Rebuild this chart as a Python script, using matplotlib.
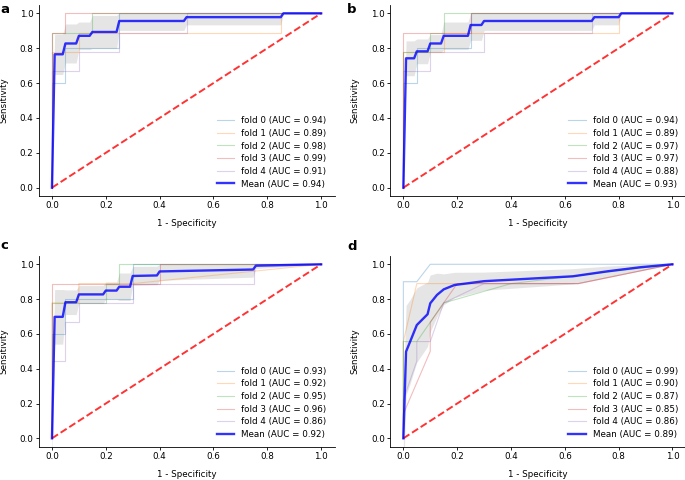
import matplotlib
matplotlib.use("Agg")
import matplotlib.pyplot as plt

plt.rcParams['font.family'] = ['DejaVu Sans']
FS = 6.3

# ---------------- Panel a ----------------
a_fold_fpr = [
    [0, 0, 0.05, 0.05, 0.25, 0.25, 1],
    [0, 0, 0.10, 0.10, 0.85, 0.85, 1],
    [0, 0, 0.15, 0.15, 1],
    [0, 0, 0.05, 0.05, 1],
    [0, 0, 0.10, 0.10, 0.25, 0.25, 0.50, 0.50, 1],
]
a_fold_tpr = [
    [0, 0.6, 0.6, 0.8, 0.8, 1, 1],
    [0, 0.778, 0.778, 0.889, 0.889, 1, 1],
    [0, 0.889, 0.889, 1, 1],
    [0, 0.889, 0.889, 1, 1],
    [0, 0.667, 0.667, 0.778, 0.778, 0.889, 0.889, 1, 1],
]
a_auc = [0.94, 0.89, 0.98, 0.99, 0.91]
a_mean_auc = 0.94
a_mean_fpr = [0, 0.01, 0.04, 0.05, 0.09, 0.10, 0.14, 0.15, 0.24, 0.25, 0.49, 0.50, 0.85, 0.86, 1.0]
a_mean_tpr = [0, 0.765, 0.765, 0.827, 0.827, 0.871, 0.871, 0.893, 0.893, 0.956, 0.956, 0.978, 0.978, 1.0, 1.0]
a_band_lo = [-0.116, 0.649, 0.649, 0.715, 0.715, 0.792, 0.792, 0.798, 0.798, 0.902, 0.902, 0.934, 0.934, 1.0, 1.0]
a_band_hi = [0.116, 0.881, 0.881, 0.939, 0.939, 0.950, 0.950, 0.988, 0.988, 1.0, 1.0, 1.0, 1.0, 1.0, 1.0]

# ---------------- Panel b ----------------
b_fold_fpr = [
    [0, 0, 0.05, 0.05, 0.25, 0.25, 1],
    [0, 0, 0.15, 0.15, 0.80, 0.80, 1],
    [0, 0, 0.10, 0.10, 0.15, 0.15, 1],
    [0, 0, 0.25, 0.25, 1],
    [0, 0, 0.10, 0.10, 0.30, 0.30, 0.70, 0.70, 1],
]
b_fold_tpr = [
    [0, 0.6, 0.6, 0.8, 0.8, 1, 1],
    [0, 0.778, 0.778, 0.889, 0.889, 1, 1],
    [0, 0.778, 0.778, 0.889, 0.889, 1, 1],
    [0, 0.889, 0.889, 1, 1],
    [0, 0.667, 0.667, 0.778, 0.778, 0.889, 0.889, 1, 1],
]
b_auc = [0.94, 0.89, 0.97, 0.97, 0.88]
b_mean_auc = 0.93
b_mean_fpr = [0, 0.01, 0.04, 0.05, 0.09, 0.10, 0.14, 0.15, 0.24, 0.25, 0.29, 0.30, 0.70, 0.71, 0.80, 0.81, 1.0]
b_mean_tpr = [0, 0.742, 0.742, 0.782, 0.782, 0.827, 0.827, 0.871, 0.871, 0.933, 0.933, 0.956, 0.956, 0.978, 0.978, 1.0, 1.0]
b_band_lo = [-0.100, 0.642, 0.642, 0.711, 0.711, 0.775, 0.775, 0.792, 0.792, 0.845, 0.845, 0.902, 0.902, 0.934, 0.934, 1.0, 1.0]
b_band_hi = [0.100, 0.842, 0.842, 0.853, 0.853, 0.878, 0.878, 0.950, 0.950, 1.0, 1.0, 1.0, 1.0, 1.0, 1.0, 1.0, 1.0]

# ---------------- Panel c ----------------
c_fold_fpr = [
    [0, 0, 0.05, 0.05, 0.30, 0.30, 1],
    [0, 0, 0.10, 0.10, 0.30, 1],
    [0, 0, 0.20, 0.20, 0.25, 0.25, 1],
    [0, 0, 0.40, 0.40, 1],
    [0, 0, 0.05, 0.05, 0.10, 0.10, 0.30, 0.30, 0.75, 0.75, 1],
]
c_fold_tpr = [
    [0, 0.6, 0.6, 0.8, 0.8, 1, 1],
    [0, 0.778, 0.778, 0.889, 0.889, 1],
    [0, 0.778, 0.778, 0.889, 0.889, 1, 1],
    [0, 0.889, 0.889, 1, 1],
    [0, 0.444, 0.444, 0.667, 0.667, 0.778, 0.778, 0.889, 0.889, 1, 1],
]
c_auc = [0.93, 0.92, 0.95, 0.96, 0.86]
c_mean_auc = 0.92
c_mean_fpr = [0, 0.01, 0.04, 0.05, 0.09, 0.10, 0.19, 0.20, 0.24, 0.25, 0.29, 0.30, 0.39, 0.40, 0.747, 0.758, 1.0]
c_mean_tpr = [0, 0.698, 0.698, 0.782, 0.782, 0.827, 0.827, 0.849, 0.849, 0.871, 0.871, 0.933, 0.936, 0.959, 0.970, 0.992, 1.0]
c_band_lo = [-0.157, 0.541, 0.541, 0.711, 0.711, 0.775, 0.775, 0.799, 0.799, 0.792, 0.792, 0.879, 0.883, 0.908, 0.926, 0.976, 1.0]
c_band_hi = [0.157, 0.855, 0.855, 0.853, 0.853, 0.878, 0.878, 0.899, 0.899, 0.950, 0.950, 0.988, 0.989, 1.0, 1.0, 1.0, 1.0]

# ---------------- Panel d ----------------
d_fold_fpr = [
    [0, 0, 0.05, 0.10, 1.0],
    [0, 0, 0.05, 0.65, 1.0],
    [0, 0, 0.05, 0.15, 0.40, 1.0],
    [0, 0, 0.10, 0.10, 0.15, 0.20, 0.65, 1.0],
    [0, 0, 0.05, 0.05, 0.10, 0.15, 0.30, 0.65, 1.0],
]
d_fold_tpr = [
    [0, 0.9, 0.9, 1.0, 1.0],
    [0, 0.556, 0.889, 0.889, 1.0],
    [0, 0.556, 0.556, 0.778, 0.889, 1.0],
    [0, 0.14, 0.50, 0.667, 0.778, 0.889, 0.889, 1.0],
    [0, 0.222, 0.444, 0.556, 0.556, 0.778, 0.889, 0.889, 1.0],
]
d_auc = [0.99, 0.90, 0.87, 0.85, 0.86]
d_mean_auc = 0.89
d_mean_fpr = [0, 0.01, 0.025, 0.05, 0.09, 0.10, 0.125, 0.15, 0.19, 0.30, 0.63, 0.76, 0.88, 1.0]
d_mean_tpr = [0, 0.498, 0.555, 0.651, 0.713, 0.776, 0.824, 0.856, 0.881, 0.903, 0.931, 0.960, 0.983, 1.0]
d_band_lo = [-0.272, 0.247, 0.313, 0.437, 0.528, 0.613, 0.699, 0.767, 0.808, 0.851, 0.887, 0.930, 0.968, 1.0]
d_band_hi = [0.272, 0.763, 0.797, 0.865, 0.898, 0.939, 0.949, 0.945, 0.954, 0.955, 0.975, 0.990, 0.998, 1.0]

panel_letters = ['a', 'b', 'c', 'd']
x_label = '1 - Specificity'
y_label = 'Sensitivity'
ticks = [0.0, 0.2, 0.4, 0.6, 0.8, 1.0]

panels = [
    (a_fold_fpr, a_fold_tpr, a_auc, a_mean_auc, a_mean_fpr, a_mean_tpr, a_band_lo, a_band_hi),
    (b_fold_fpr, b_fold_tpr, b_auc, b_mean_auc, b_mean_fpr, b_mean_tpr, b_band_lo, b_band_hi),
    (c_fold_fpr, c_fold_tpr, c_auc, c_mean_auc, c_mean_fpr, c_mean_tpr, c_band_lo, c_band_hi),
    (d_fold_fpr, d_fold_tpr, d_auc, d_mean_auc, d_mean_fpr, d_mean_tpr, d_band_lo, d_band_hi),
]

fig = plt.figure(figsize=(6.85, 4.8), dpi=100)
W, H = 685.0, 480.0
# axes rectangles in pixels: left, top, right, bottom
rects = [(38.5, 4.6, 334.6, 196.4), (389.9, 4.6, 685.9, 196.4),
         (38.5, 255.6, 334.6, 447.0), (389.9, 255.6, 685.9, 447.0)]
letter_pos = [(0.5, 12.7), (347.0, 13.3), (0.5, 249.3), (347.0, 250.0)]
fold_colors = ['C0', 'C1', 'C2', 'C3', 'C4']

for i, (ffpr, ftpr, aucs, mauc, mfpr, mtpr, blo, bhi) in enumerate(panels):
    l, t, r, b = rects[i]
    ax = fig.add_axes([l / W, 1 - b / H, (r - l) / W, (b - t) / H])
    for k in range(len(ffpr)):
        ax.plot(ffpr[k], ftpr[k], color=fold_colors[k], lw=0.8, alpha=0.3,
                label='fold %d (AUC = %.2f)' % (k, aucs[k]))
    ax.plot([0, 1], [0, 1], linestyle='--', lw=1.4, color='r', alpha=0.8)
    ax.plot(mfpr, mtpr, color='b', lw=1.7, alpha=0.8,
            label='Mean (AUC = %.2f)' % mauc)
    ax.fill_between(mfpr, blo, bhi, color='grey', alpha=0.2, lw=0)
    ax.set_xlim(-0.05, 1.05)
    ax.set_ylim(-0.05, 1.05)
    ax.set_xticks(ticks)
    ax.set_yticks(ticks)
    ax.tick_params(labelsize=FS, length=2.2, width=0.6, pad=1.4)
    for s in ['top', 'right']:
        ax.spines[s].set_visible(False)
    for s in ['left', 'bottom']:
        ax.spines[s].set_linewidth(0.6)
    ax.set_xlabel(x_label, fontsize=FS)
    ax.set_ylabel(y_label, fontsize=FS)
    ax.xaxis.set_label_coords(0.5, -0.118)
    ax.yaxis.set_label_coords(-0.103, 0.5)
    ax.legend(loc='lower right', fontsize=FS, frameon=False, labelspacing=0.42,
              handlelength=2.0, handletextpad=0.8)
    lx, ly = letter_pos[i]
    fig.text(lx / W, 1 - ly / H, panel_letters[i], fontsize=9.5,
             fontweight='bold', ha='left', va='baseline')

fig.savefig('out.png', dpi=100)
